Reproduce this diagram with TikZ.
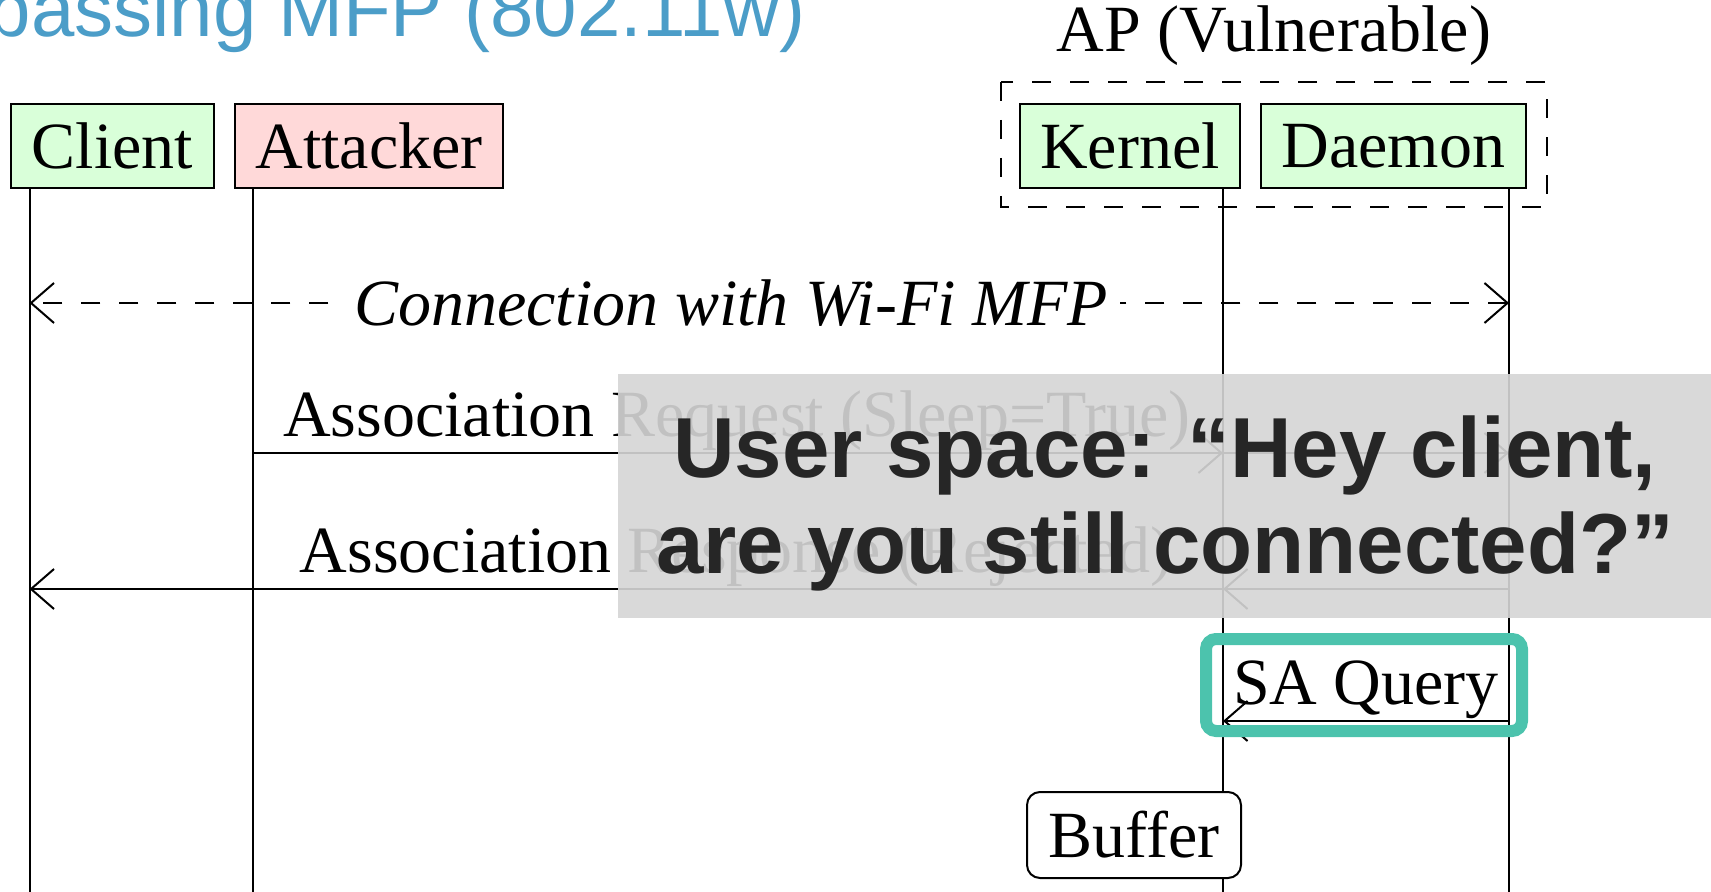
\documentclass[tikz,border=0pt]{standalone}
\usepackage{fontspec}
\setmainfont{Liberation Serif}
\newfontfamily\sansf{Liberation Sans}
\usetikzlibrary{arrows.meta}
\definecolor{boxgreen}{RGB}{217,255,217}
\definecolor{boxpink}{RGB}{255,217,217}
\definecolor{titleblue}{RGB}{75,157,200}
\definecolor{hiteal}{RGB}{76,195,173}
\definecolor{ovgray}{RGB}{213,213,213}
\definecolor{ovtext}{RGB}{38,38,38}
\tikzset{
  serifsize/.style={font=\fontsize{33}{39}\selectfont},
  actor/.style={draw, line width=1pt, minimum height=42pt, inner sep=0pt, serifsize},
  life/.style={line width=1pt},
  barb/.tip={Straight Barb[length=11.5pt,width=20pt]},
  msg/.style={line width=1pt, -barb},
  dashpat/.style={dash pattern=on 9.5pt off 9.5pt},
  lbl/.style={anchor=base, inner sep=0pt, serifsize},
  ovline/.style={anchor=base, inner sep=0pt, text=ovtext, font=\sansf\bfseries\fontsize{42.6}{48}\selectfont},
}
\begin{document}
\begin{tikzpicture}[x=0.5pt,y=-0.5pt]
\useasboundingbox (0,0) rectangle (1711,892);
\clip (0,0) rectangle (1711,892);

% title
\node[anchor=base east, inner sep=0pt, text=titleblue, font=\sansf\fontsize{39}{45}\selectfont] (title) at (806,37) {passing MFP (802.11w)};

% AP group
\draw[line width=1pt, dashpat] (1001,82) rectangle (1547,207);
\node[lbl] (ap) at (1274,52) {AP (Vulnerable)};

% actors
\node[actor, fill=boxgreen, minimum width=101.5pt] (client) at (112.5,146) {Client};
\node[actor, fill=boxpink, minimum width=134pt] (attacker) at (369,146) {Attacker};
\node[actor, fill=boxgreen, minimum width=110pt] (kernel) at (1130,146) {Kernel};
\node[actor, fill=boxgreen, minimum width=132.5pt] (daemon) at (1393.5,146) {Daemon};

% lifeline coordinates
\coordinate (c0) at (29.5,188);  \coordinate (cE) at (29.5,892);
\coordinate (a0) at (253,188);   \coordinate (aE) at (253,892);
\coordinate (k0) at (1223,188);  \coordinate (kE) at (1223,892);
\coordinate (d0) at (1509,188);  \coordinate (dE) at (1509,892);
\draw[life] (c0) -- (cE);
\draw[life] (a0) -- (aE);
\draw[life] (k0) -- (kE);
\draw[life] (d0) -- (dE);

% message rows
\coordinate (c1) at (29.5,303);  \coordinate (d1) at (1509,303);
\coordinate (a2) at (253,453);   \coordinate (k2) at (1223,453);  \coordinate (d2) at (1509,453);
\coordinate (c3) at (29.5,589);  \coordinate (k3) at (1223,589);  \coordinate (d3) at (1509,589);
\coordinate (k4) at (1223,721);  \coordinate (d4) at (1509,721);

\draw[line width=1pt, dashpat, barb-barb] (d1) -- (c1);
\node[fill=white, inner xsep=6pt, inner ysep=2pt, font=\fontsize{33}{39}\selectfont\itshape] (conn) at (731,303) {Connection with Wi-Fi MFP};

\draw[msg] (a2) -- (k2);
\draw[msg] (k2) -- (d2);
\node[lbl] (req) at (737,437) {Association Request (Sleep=True)};

\draw[msg] (d3) -- (k3);
\draw[msg] (k3) -- (c3);
\node[lbl] (resp) at (736,572) {Association Response (Rejected)};

\draw[msg] (d4) -- (k4);
\node[lbl] (saq) at (1366,704) {SA Query};

% buffer
\node[draw, line width=1pt, rounded corners=6.5pt, fill=white, minimum width=107pt, minimum height=43pt, inner sep=0pt, serifsize] (buf) at (1134,835) {Buffer};

% overlay
\fill[ovgray, fill opacity=0.91] (618,374) rectangle (1711,618);
\node[ovline] (ov1) at (1165,477) {User space: “Hey client,};
\node[ovline] (ov2) at (1165,573) {are you still connected?”};

% highlight
\draw[hiteal, line width=6pt, rounded corners=5pt] (1206,639) rectangle (1522,731);
\end{tikzpicture}
\end{document}
